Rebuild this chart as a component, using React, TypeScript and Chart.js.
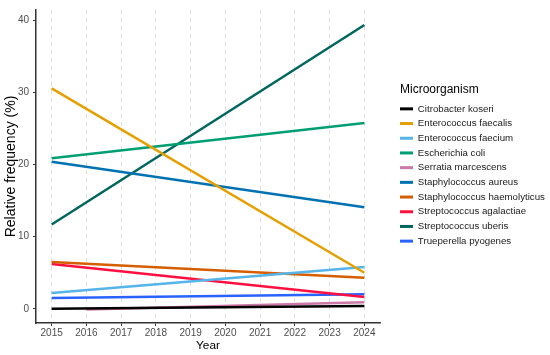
import React, { useEffect, useRef } from "react";
import { Chart, registerables } from "chart.js";

Chart.register(...registerables);

const yearTicks = [2015, 2016, 2017, 2018, 2019, 2020, 2021, 2022, 2023, 2024];
const yTicks = [0, 10, 20, 30, 40];

const organisms = [
  "Citrobacter koseri",
  "Enterococcus faecalis",
  "Enterococcus faecium",
  "Escherichia coli",
  "Serratia marcescens",
  "Staphylococcus aureus",
  "Staphylococcus haemolyticus",
  "Streptococcus agalactiae",
  "Streptococcus uberis",
  "Trueperella pyogenes",
];

const startYears = [2015, 2015, 2015, 2015, 2016, 2015, 2015, 2015, 2015, 2015];
const endYears = [2024, 2024, 2024, 2024, 2024, 2024, 2024, 2024, 2024, 2024];
const startValues = [0.0, 30.6, 2.2, 20.9, -0.1, 20.4, 6.5, 6.2, 11.7, 1.5];
const endValues = [0.4, 5.0, 5.8, 25.8, 0.9, 14.1, 4.3, 1.65, 39.4, 2.0];

const colors = [
  "#000000",
  "#E69F00",
  "#56B4E9",
  "#009E73",
  "#CC79A7",
  "#0072B2",
  "#D55E00",
  "#FF1040",
  "#00665E",
  "#2962FF",
];

const FONT = "'Liberation Sans', Arial, Helvetica, sans-serif";

export default function App() {
  const ref = useRef<HTMLCanvasElement | null>(null);

  useEffect(() => {
    if (!ref.current) return;
    const datasets = organisms.map((name, i) => ({
      label: name,
      data: [
        { x: startYears[i], y: startValues[i] },
        { x: endYears[i], y: endValues[i] },
      ],
      borderColor: colors[i],
      backgroundColor: colors[i],
      borderWidth: 2.5,
      pointRadius: 0,
      pointHoverRadius: 0,
      tension: 0,
      fill: false,
    }));

    const chart = new Chart(ref.current, {
      type: "line",
      data: { datasets },
      options: {
        animation: false,
        responsive: false,
        layout: { padding: { top: 7, left: 0, right: 0, bottom: 0 } },
        plugins: {
          tooltip: { enabled: false },
          legend: {
            position: "right",
            fullSize: false,
            maxWidth: 150,
            align: "center",
            title: {
              display: true,
              text: "Microorganism",
              position: "start",
              color: "#000000",
              font: { family: FONT, size: 12 },
              padding: { top: 2, bottom: 5.6 },
            },
            labels: {
              boxWidth: 13,
              boxHeight: 3,
              padding: 0,
              color: "#1a1a1a",
              font: { family: FONT, size: 9.7, lineHeight: 14.7 / 9.7 },
              generateLabels: () =>
                organisms.map((name, i) => ({
                  text: [name] as any,
                  fillStyle: colors[i],
                  strokeStyle: colors[i],
                  lineWidth: 0,
                  hidden: false,
                  datasetIndex: i,
                  fontColor: "#1a1a1a",
                })) as any,
            },
          },
        },
        scales: {
          x: {
            type: "linear",
            min: 2014.55,
            max: 2024.45,
            afterBuildTicks: (scale: any) => {
              scale.ticks = yearTicks.map((v) => ({ value: v }));
            },
            afterFit: (scale: any) => {
              scale.height = 32;
            },
            ticks: {
              color: "#4D4D4D",
              font: { family: FONT, size: 10 },
              padding: 1.5,
              maxRotation: 0,
              autoSkip: false,
              callback: (v: any) => String(v),
            },
            grid: {
              display: true,
              drawOnChartArea: true,
              drawTicks: true,
              tickLength: 3,
              color: "#D6D6D6",
              lineWidth: 0.8,
              tickColor: "#333333",
              tickWidth: 1,
              tickBorderDash: [],
            },
            border: { display: true, color: "#333333", width: 1.5, dash: [4, 4] },
            title: {
              display: true,
              text: "Year",
              color: "#000000",
              font: { family: FONT, size: 11.8 },
              padding: { top: 0, bottom: 2.5 },
            },
          },
          y: {
            type: "linear",
            position: "left",
            min: -1.975,
            max: 41.475,
            afterBuildTicks: (scale: any) => {
              scale.ticks = yTicks.map((v) => ({ value: v }));
            },
            afterFit: (scale: any) => {
              scale.width = 36;
            },
            ticks: {
              color: "#4D4D4D",
              font: { family: FONT, size: 10 },
              padding: 4,
              callback: (v: any) => String(v),
            },
            grid: {
              display: true,
              drawOnChartArea: false,
              drawTicks: true,
              tickLength: 3,
              tickColor: "#333333",
              tickWidth: 1,
            },
            border: { display: true, color: "#333333", width: 1.5 },
            title: {
              display: true,
              text: "Relative frequency (%)",
              color: "#000000",
              font: { family: FONT, size: 14 },
              padding: { top: 3, bottom: 0 },
            },
          },
          spacer: {
            type: "linear",
            position: "right",
            display: true,
            afterFit: (scale: any) => {
              scale.width = 20;
            },
            ticks: { display: false },
            grid: { display: false, drawTicks: false },
            border: { display: false },
            title: { display: false },
          },
        },
      } as any,
    });

    return () => chart.destroy();
  }, []);

  return (
    <canvas
      ref={ref}
      width={550}
      height={355}
      style={{ position: "fixed", left: 0, top: 0, display: "block", width: 550, height: 355 }}
    />
  );
}
